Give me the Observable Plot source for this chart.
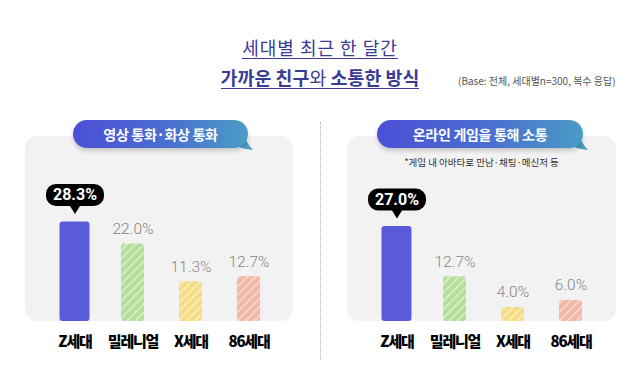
<!DOCTYPE html>
<html><head><meta charset="utf-8">
<script src="https://cdn.jsdelivr.net/npm/d3@7"></script>
<script src="https://cdn.jsdelivr.net/npm/@observablehq/plot@0.6"></script>
<style>
body{margin:0;background:#fff;}
#root{position:relative;width:640px;height:383px;overflow:hidden;font-family:"Noto Sans CJK KR","Noto Sans",sans-serif;background:#fff;}
.abs{position:absolute;}
.title{color:#383c94;white-space:nowrap;}
.uline{border-bottom:1.6px solid #383c94;padding-bottom:0px;display:inline-block;line-height:1.15;}
.panel{background:#f2f2f2;border-radius:12px;}
.pill{height:28px;border-radius:14px;background:linear-gradient(90deg,#4b4fd6 0%,#4a6fd0 55%,#4a9cc6 100%);color:#fff;font-weight:700;font-size:14px;letter-spacing:-0.3px;display:flex;align-items:center;justify-content:center;box-shadow:0 3px 4px rgba(0,0,0,0.18);}
.chart svg{background:transparent;overflow:visible;}
.chart svg g[aria-label="x-axis tick label"] text, .chart svg g[aria-label="x-axis"] text{font-weight:900;font-size:15px;letter-spacing:-1.2px;fill:#000;font-family:"Noto Sans CJK KR",sans-serif;}
</style></head><body>
<svg width="0" height="0" style="position:absolute">
<defs>
<pattern id="hatch-green" patternUnits="userSpaceOnUse" width="6" height="6" patternTransform="rotate(45)">
<rect width="6" height="6" fill="#b4de9a"/><rect width="1.6" height="6" fill="#dcf0cd"/>
</pattern>
<pattern id="hatch-yellow" patternUnits="userSpaceOnUse" width="6" height="6" patternTransform="rotate(45)">
<rect width="6" height="6" fill="#f5db84"/><rect width="1.6" height="6" fill="#fbefc4"/>
</pattern>
<pattern id="hatch-salmon" patternUnits="userSpaceOnUse" width="6" height="6" patternTransform="rotate(45)">
<rect width="6" height="6" fill="#f2b6a4"/><rect width="1.6" height="6" fill="#f9dad0"/>
</pattern>
</defs>
</svg>
<div id="root"></div>
<script>
// ---- data ----
const generations = ["Z세대", "밀레니얼", "X세대", "86세대"];
const videoCall = [28.3, 22.0, 11.3, 12.7];
const onlineGame = [27.0, 12.7, 4.0, 6.0];
const panelTitles = ["영상 통화·화상 통화", "온라인 게임을 통해 소통"];
const gameNote = "*게임 내 아바타로 만남·채팅·메신저 등";
const titleLine1 = "세대별 최근 한 달간";
const titleLine2 = [["가까운 친구", 700], ["와 ", 400], ["소통한 방식", 700]];
const baseNote = "(Base: 전체, 세대별n=300, 복수 응답)";
const barFills = ["#5a5bd8", "url(#hatch-green)", "url(#hatch-yellow)", "url(#hatch-salmon)"];

const root = document.getElementById("root");
function el(tag, cls, css, html) {
  const e = document.createElement(tag);
  if (cls) e.className = cls;
  if (css) e.style.cssText = css;
  if (html != null) e.innerHTML = html;
  root.appendChild(e);
  return e;
}

// title
el("div", "abs title", "left:0;width:640px;top:34px;text-align:center;font-size:18px;font-weight:400;letter-spacing:1px;",
  `<span class="uline">${titleLine1}</span>`);
el("div", "abs title", "left:0;width:640px;top:64px;text-align:center;font-size:18.3px;letter-spacing:0.1px;",
  `<span class="uline">${titleLine2.map(([t, w]) => `<span style="font-weight:${w}">${t.replace(/ /g, "&nbsp;")}</span>`).join("")}</span>`);
el("div", "abs", "left:458px;top:73px;font-size:10px;color:#555;white-space:nowrap;", baseNote);

// separator
el("div", "abs", "left:320px;top:122px;height:238px;border-left:1.5px dotted #b5b5b5;");

// panels
el("div", "abs panel", "left:25px;top:136px;width:268px;height:185px;");
el("div", "abs panel", "left:347px;top:136px;width:269px;height:185px;");

// bubbles
function bubble(left, width, text) {
  el("div", "abs", `left:${left + width - 16}px;top:133px;width:24px;height:20px;`,
    `<svg width="24" height="20"><path d="M0,4 L12,0 Q14,10 21,17 Q10,16 2,12 Z" fill="#4a9cc6"/></svg>`);
  el("div", "abs pill", `left:${left}px;top:120px;width:${width}px;`, text);
}
bubble(73, 175, panelTitles[0]);
bubble(377, 206, panelTitles[1]);
el("div", "abs", "left:347px;width:269px;top:155px;text-align:center;font-size:9.5px;color:#333;white-space:nowrap;", gameNote);

// callout symbol (bubble with a tail pointing down to the bar)
const callout = {
  draw(ctx) {
    const w = 58, h = 22, r = 10, yb = -16, yt = yb - h, tip = -8;
    ctx.moveTo(-w / 2 + r, yt);
    ctx.lineTo(w / 2 - r, yt);
    ctx.arcTo(w / 2, yt, w / 2, yt + r, r);
    ctx.lineTo(w / 2, yb - r);
    ctx.arcTo(w / 2, yb, w / 2 - r, yb, r);
    ctx.lineTo(5, yb);
    ctx.lineTo(0, tip);
    ctx.lineTo(-5, yb);
    ctx.lineTo(-w / 2 + r, yb);
    ctx.arcTo(-w / 2, yb, -w / 2, yb - r, r);
    ctx.lineTo(-w / 2, yt + r);
    ctx.arcTo(-w / 2, yt, -w / 2 + r, yt, r);
    ctx.closePath();
  }
};

function panelPlot(values) {
  const data = generations.map((g, i) => ({gen: g, value: values[i], i}));
  const top = data.filter(d => d.i === 0);
  const rest = data.filter(d => d.i !== 0);
  const fmt = d => d.value.toFixed(1) + "%";
  return Plot.plot({
    width: 268, height: 210,
    marginTop: 0, marginBottom: 39, marginLeft: 20, marginRight: 15,
    x: {domain: generations, paddingInner: 0.6, paddingOuter: 0.3, label: null, tickSize: 0, tickPadding: 15},
    y: {domain: [0, 48.6], axis: null},
    color: {domain: generations, range: barFills},
    style: {background: "transparent", fontFamily: "Noto Sans CJK KR", fontSize: "15px", overflow: "visible"},
    marks: [
      Plot.barY(rest, {x: "gen", y: "value", fill: "gen", rx: 3}),
      Plot.barY(top, {x: "gen", y: "value", fill: "gen", rx: 3, insetLeft: -3.5, insetRight: -3.5}),
      Plot.text(rest, {x: "gen", y: "value", text: fmt, dy: -15, fill: "#858585", fontSize: 15.5, fontWeight: 300, fontFamily: "Roboto"}),
      Plot.dot(top, {x: "gen", y: "value", symbol: callout, fill: "#000", stroke: "none"}),
      Plot.text(top, {x: "gen", y: "value", text: fmt, dy: -27, fill: "#fff", fontSize: 16, fontWeight: 700, fontFamily: "Roboto"})
    ]
  });
}

const c1 = el("div", "abs chart", "left:25px;top:150px;");
c1.appendChild(panelPlot(videoCall));
const c2 = el("div", "abs chart", "left:347px;top:150px;");
c2.appendChild(panelPlot(onlineGame));
</script>
</body></html>
